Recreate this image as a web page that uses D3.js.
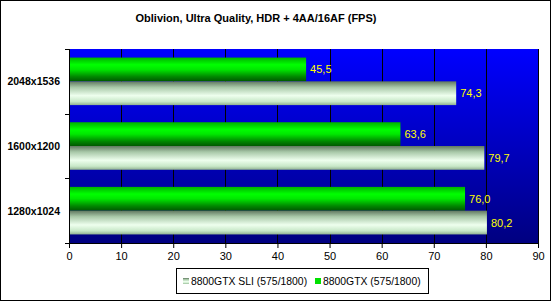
<!DOCTYPE html>
<html><head><meta charset="utf-8">
<script src="https://cdn.jsdelivr.net/npm/d3@7"></script>
<style>body{margin:0;background:#fff}svg{display:block;font-family:"Liberation Sans",Arial,sans-serif}</style>
</head><body>
<script>
const categories = ["2048x1536", "1600x1200", "1280x1024"];
const seriesNames = ["8800GTX SLI (575/1800)", "8800GTX (575/1800)"];
const sliValues = [74.3, 79.7, 80.2];
const singleValues = [45.5, 63.6, 76.0];
const xTicks = [0, 10, 20, 30, 40, 50, 60, 70, 80, 90];
const title = "Oblivion, Ultra Quality, HDR + 4AA/16AF (FPS)";

const W = 551, H = 301;
const svg = d3.select("body").append("svg").attr("width", W).attr("height", H);
const m = {left: 69, right: 538, top: 49, bottom: 243};

const defs = svg.append("defs");
const bg = defs.append("linearGradient").attr("id","bg").attr("x1",0).attr("y1",0).attr("x2",0).attr("y2",1);
bg.append("stop").attr("offset","0%").attr("stop-color","#0000ff");
bg.append("stop").attr("offset","100%").attr("stop-color","#000080");
const gg = defs.append("linearGradient").attr("id","gGreen").attr("x1",0).attr("y1",0).attr("x2",0).attr("y2",1);
[[0,"#00b000"],[0.3,"#00ff00"],[0.5,"#00e800"],[0.8,"#008800"],[1,"#005800"]].forEach(s=>gg.append("stop").attr("offset",s[0]).attr("stop-color",s[1]));
const gl = defs.append("linearGradient").attr("id","gLight").attr("x1",0).attr("y1",0).attr("x2",0).attr("y2",1);
[[0,"#607860"],[0.25,"#a8c8a8"],[0.6,"#eeffee"],[0.85,"#c8e8c8"],[1,"#90b090"]].forEach(s=>gl.append("stop").attr("offset",s[0]).attr("stop-color",s[1]));

// outer border
svg.append("rect").attr("x",0.5).attr("y",0.5).attr("width",W-1).attr("height",H-1).attr("fill","none").attr("stroke","#000");

svg.append("text").attr("x",256).attr("y",22).attr("text-anchor","middle")
  .attr("font-size",11).attr("font-weight","bold").text(title);

const x = d3.scaleLinear().domain([0,90]).range([m.left, m.right]);
const y = d3.scaleBand().domain(categories).range([m.top, m.bottom]);
const inner = d3.scaleBand().domain(["single","sli"]).range([0, y.bandwidth()]).paddingOuter(0.36).paddingInner(0);

svg.append("rect").attr("x",m.left).attr("y",m.top).attr("width",m.right-m.left).attr("height",m.bottom-m.top).attr("fill","url(#bg)");

// gridlines
svg.append("g").selectAll("line").data(xTicks.slice(1)).join("line")
  .attr("x1",d=>Math.round(x(d))+0.5).attr("x2",d=>Math.round(x(d))+0.5)
  .attr("y1",m.top).attr("y2",m.bottom).attr("stroke","#000");

// bars
const rows = categories.map((c,i)=>({c, single: singleValues[i], sli: sliValues[i]}));
const g = svg.append("g");
rows.forEach(r=>{
  [["single","url(#gGreen)"],["sli","url(#gLight)"]].forEach(([k,fill])=>{
    const y0 = y(r.c)+inner(k);
    g.append("rect").attr("x",x(0)).attr("y",y0).attr("width",x(r[k])-x(0)).attr("height",inner.bandwidth()).attr("fill",fill);
    g.append("text").attr("x",x(r[k])+4).attr("y",y0+inner.bandwidth()/2+4)
      .attr("font-size",11).attr("fill","#ffff00").text(d3.format(".1f")(r[k]).replace(".",","));
  });
});

// axes
const xa = svg.append("g").attr("transform",`translate(0,${m.bottom})`)
  .call(d3.axisBottom(x).tickValues(xTicks).tickSize(5).tickPadding(4).tickFormat(d3.format("d")));
xa.select(".domain").attr("stroke","#000");
xa.selectAll("text").attr("font-size",11).attr("font-family","Liberation Sans, Arial").attr("fill","#000");
xa.selectAll("line").attr("stroke","#000");

const ya = svg.append("g").attr("transform",`translate(${m.left},0)`);
ya.append("line").attr("x1",0.5).attr("x2",0.5).attr("y1",m.top).attr("y2",m.bottom).attr("stroke","#000");
const bounds = [m.top].concat(categories.map(c=>y(c)+y.bandwidth()));
ya.selectAll(".tk").data(bounds).join("line").attr("x1",-4).attr("x2",0)
  .attr("y1",d=>Math.round(d)+0.5).attr("y2",d=>Math.round(d)+0.5).attr("stroke","#000");
ya.selectAll("text").data(categories).join("text").attr("x",-9).attr("y",d=>y(d)+y.bandwidth()/2+4)
  .attr("text-anchor","end").attr("font-size",10.5).attr("font-weight","bold").text(d=>d);

// legend
const lg = svg.append("g");
lg.append("rect").attr("x",176.5).attr("y",268.5).attr("width",252).attr("height",25).attr("fill","#fff").attr("stroke","#000");
const items = [[seriesNames[0],"url(#gLight)",183],[seriesNames[1],"#00e000",315]];
items.forEach(([t,f,lx])=>{
  lg.append("rect").attr("x",lx).attr("y",278).attr("width",6).attr("height",6).attr("fill",f);
  lg.append("text").attr("x",lx+8).attr("y",285).attr("font-size",10.4).text(t);
});
</script>
</body></html>
